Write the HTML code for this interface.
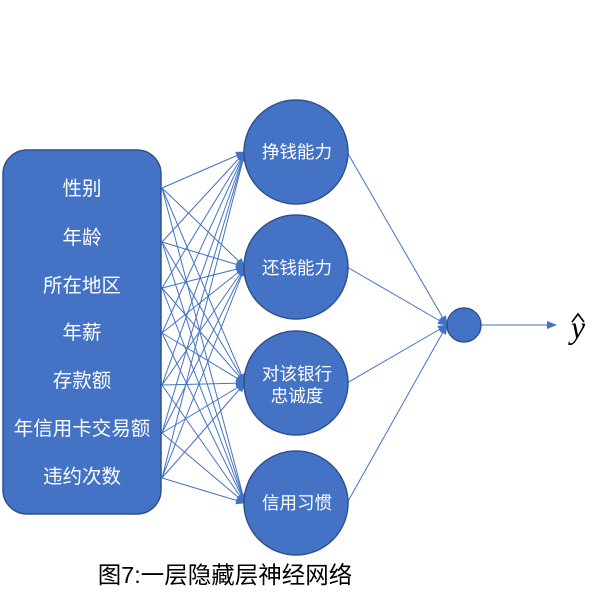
<!DOCTYPE html>
<html><head><meta charset="utf-8"><style>
body{margin:0;background:#fff;width:610px;height:602px;overflow:hidden;font-family:"Liberation Sans","Noto Sans CJK SC",sans-serif}
</style></head><body>
<svg id="s" width="610" height="602" xmlns="http://www.w3.org/2000/svg">
<defs><marker id="a" markerWidth="10" markerHeight="8" refX="9" refY="4" orient="auto" markerUnits="userSpaceOnUse"><path d="M0,0 L10,4 L0,8 z" fill="#4472C4"/></marker></defs>
<g id="lines" stroke="#4472C4" stroke-width="1" fill="none"></g>
<rect x="3" y="150" width="158" height="364" rx="24" fill="#4472C4" stroke="#2F528F" stroke-width="1.5"/>
<g fill="#fff" font-size="19.5" text-anchor="middle" font-family="Liberation Sans, Noto Sans CJK SC, sans-serif">
<text x="82" y="195">性别</text><text x="82" y="244">年龄</text><text x="82" y="292">所在地区</text><text x="82" y="339">年薪</text><text x="82" y="387">存款额</text><text x="82" y="435">年信用卡交易额</text><text x="82" y="483">违约次数</text>
</g>
<g fill="#4472C4" stroke="#2F528F" stroke-width="1.5">
<circle cx="296" cy="152" r="52"/><circle cx="296" cy="267" r="52"/><circle cx="296" cy="383" r="52"/><circle cx="296" cy="503" r="52"/>
<circle cx="464" cy="325" r="17"/>
</g>
<g fill="#fff" font-size="17.5" text-anchor="middle" font-family="Liberation Sans, Noto Sans CJK SC, sans-serif">
<text x="297" y="158">挣钱能力</text><text x="297" y="274">还钱能力</text><text x="297" y="380">对该银行</text><text x="297" y="402">忠诚度</text><text x="297" y="509">信用习惯</text>
</g>
<line x1="481" y1="325" x2="556" y2="325" stroke="#4472C4" stroke-width="1" marker-end="url(#a)"/>
<text x="578" y="338" font-size="32" font-style="italic" text-anchor="middle" font-family="Liberation Serif, serif">y</text>
<path d="M572,322 L578,314 L584,322" stroke="#000" stroke-width="1.6" fill="none"/>
<text x="225" y="583" font-size="23.5" text-anchor="middle" fill="#000">图7:一层隐藏层神经网络</text>
</svg>
<script>
var g=document.getElementById('lines'),ns='http://www.w3.org/2000/svg';
var ys=[188,242,288,333,385,433,478],cs=[152,267,383,503];
function L(x1,y1,x2,y2){var l=document.createElementNS(ns,'line');l.setAttribute('x1',x1);l.setAttribute('y1',y1);l.setAttribute('x2',x2);l.setAttribute('y2',y2);l.setAttribute('marker-end','url(#a)');g.appendChild(l);}
ys.forEach(function(y){cs.forEach(function(c){L(162,y,245,c);});});
cs.forEach(function(c){L(347,c,447,325);});
</script>
</body></html>
